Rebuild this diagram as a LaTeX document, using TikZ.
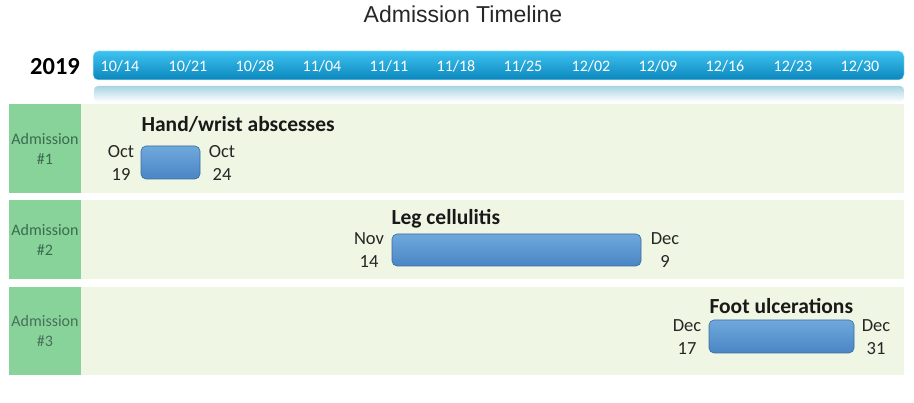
\documentclass[tikz,border=0pt]{standalone}
\usepackage{fontspec}
\setmainfont{Carlito}
\newfontfamily\arialfont{Liberation Sans}
\definecolor{bartop}{HTML}{3EC3F0}
\definecolor{barbot}{HTML}{0A86BC}
\definecolor{refltop}{HTML}{A9D4E4}
\definecolor{admgreen}{HTML}{88D39A}
\definecolor{bandbg}{HTML}{EFF7E4}
\definecolor{blocktop}{HTML}{6FA8DC}
\definecolor{blockbot}{HTML}{4A86C5}
\definecolor{admtext}{HTML}{3B6B4E}
\begin{document}
\begin{tikzpicture}[x=1pt,y=-1pt,
  tick/.style={text=white,font=\fontsize{16}{18}\selectfont,anchor=center},
  admbox/.style={fill=admgreen,draw=none},
  band/.style={fill=bandbg,draw=none},
  admlabel/.style={text=admtext,font=\fontsize{16}{20}\selectfont,align=center},
  block/.style={draw=blockbot!80!black,line width=0.6pt,rounded corners=5pt,top color=blocktop,bottom color=blockbot},
  datelbl/.style={font=\fontsize{18.5}{23}\selectfont,align=center,text=black!85},
  titlelbl/.style={font=\fontsize{21.5}{24}\bfseries\selectfont,anchor=west,text=black!90}]
\useasboundingbox (0,0) rectangle (914,403);
% title
\node[font=\arialfont\fontsize{23}{26}\selectfont,text=black!85] (title) at (463,14) {Admission Timeline};
% year
\node[font=\fontsize{24.5}{28}\bfseries\selectfont] (year) at (55,67) {2019};
% reflection
\shade[top color=refltop,bottom color=white,rounded corners=4pt] (94,86) rectangle (904,102);
% timeline bar
\shade[top color=bartop,bottom color=barbot,rounded corners=5pt] (93,51) rectangle (904,80);
\draw[white!70!bartop,line width=0.5pt,rounded corners=5pt] (93,51) rectangle (904,80);
\node[tick] (t1) at (120,66) {10/14};
\node[tick] (t2) at (188,66) {10/21};
\node[tick] (t3) at (255,66) {10/28};
\node[tick] (t4) at (322,66) {11/04};
\node[tick] (t5) at (389,66) {11/11};
\node[tick] (t6) at (456,66) {11/18};
\node[tick] (t7) at (523,66) {11/25};
\node[tick] (t8) at (591,66) {12/02};
\node[tick] (t9) at (658,66) {12/09};
\node[tick] (t10) at (725,66) {12/16};
\node[tick] (t11) at (793,66) {12/23};
\node[tick] (t12) at (860,66) {12/30};
% rows
\fill[band] (81,104) rectangle (904,193);
\fill[band] (81,200) rectangle (904,279);
\fill[band] (81,287) rectangle (904,375);
\fill[admbox] (9,104) rectangle (81,193);
\fill[admbox] (9,200) rectangle (81,279);
\fill[admbox] (9,287) rectangle (81,375);
\node[admlabel] (a1) at (45,149) {Admission\\\#1};
\node[admlabel] (a2) at (45,240) {Admission\\\#2};
\node[admlabel,text=admtext!80!gray] (a3) at (45,331) {Admission\\\#3};
% row 1
\path[block] (141,146) rectangle (200,179);
\node[titlelbl] (n1) at (138,124) {Hand/wrist abscesses};
\node[datelbl] (d1a) at (121,163) {Oct\\19};
\node[datelbl] (d1b) at (222,163) {Oct\\24};
% row 2
\path[block] (392,234) rectangle (641,266);
\node[titlelbl] (n2) at (388,219) {Leg cellulitis};
\node[datelbl] (d2a) at (369,250) {Nov\\14};
\node[datelbl] (d2b) at (665,250) {Dec\\9};
% row 3
\path[block] (709,320) rectangle (854,353);
\node[titlelbl] (n3) at (706,306) {Foot ulcerations};
\node[datelbl] (d3a) at (687,337) {Dec\\17};
\node[datelbl] (d3b) at (876,337) {Dec\\31};
\end{tikzpicture}
\end{document}
